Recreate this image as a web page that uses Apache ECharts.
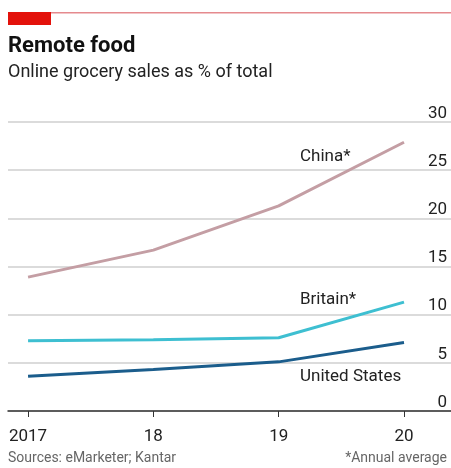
<!DOCTYPE html>
<html>
<head>
<meta charset="utf-8">
<script src="https://cdn.jsdelivr.net/npm/echarts@6/dist/echarts.min.js"></script>
<style>
  html, body { margin: 0; padding: 0; background: #fff; }
  #main { width: 451px; height: 468px; }
</style>
</head>
<body>
<div id="main"></div>
<script>
// data
var years = [2017, 2018, 2019, 2020];
var china = [13.9, 16.7, 21.3, 27.9];
var britain = [7.3, 7.4, 7.6, 11.3];
var unitedStates = [3.6, 4.3, 5.1, 7.1];
var yTicks = [0, 5, 10, 15, 20, 25, 30];

var font = 'Roboto';

function pairs(vals) {
    return vals.map(function (v, i) { return [years[i], v]; });
}

var myChart = echarts.init(document.getElementById('main'));

myChart.setOption({
    animation: false,
    grid: { left: 8, right: 0, top: 122, bottom: 57 },
    xAxis: {
        type: 'value',
        min: 2016.84,
        max: 2020.375,
        axisLine: { show: true, onZero: false, lineStyle: { color: '#333', width: 1.5 } },
        axisTick: {
            show: true,
            customValues: years,
            length: 6,
            lineStyle: { color: '#333', width: 1 }
        },
        axisLabel: {
            customValues: years,
            margin: 17,
            fontFamily: font,
            fontSize: 17,
            color: '#222',
            formatter: function (v) {
                return v === 2017 ? '2017' : String(v).slice(2);
            }
        },
        splitLine: { show: false }
    },
    yAxis: {
        type: 'value',
        position: 'right',
        min: 0,
        max: 30,
        interval: 5,
        axisLine: { show: false },
        axisTick: { show: false },
        axisLabel: {
            inside: true,
            verticalAlign: 'bottom',
            margin: 4,
            fontFamily: font,
            fontSize: 17,
            color: '#222',
            formatter: function (v) { return yTicks.indexOf(v) >= 0 ? String(v) : ''; }
        },
        splitLine: { lineStyle: { color: '#cfcfcf', width: 1.5 } }
    },
    series: [
        {
            name: 'China*', type: 'line', data: pairs(china), symbol: 'none',
            lineStyle: { color: '#c49ea4', width: 3 }
        },
        {
            name: 'Britain*', type: 'line', data: pairs(britain), symbol: 'none',
            lineStyle: { color: '#3ebfd1', width: 3 }
        },
        {
            name: 'United States', type: 'line', data: pairs(unitedStates), symbol: 'none',
            lineStyle: { color: '#1b5d8c', width: 3 }
        }
    ],
    graphic: [
        { type: 'rect', left: 8, top: 12, shape: { width: 443, height: 1.5 }, style: { fill: '#e58a8e' } },
        { type: 'rect', left: 8, top: 12, shape: { width: 43, height: 13 }, style: { fill: '#e3120b' } },
        { type: 'text', left: 8, top: 35, style: { text: 'Remote food', font: 'bold 22px ' + font, fill: '#111' } },
        { type: 'text', left: 8, top: 63, style: { text: 'Online grocery sales as % of total', font: '18px ' + font, fill: '#222' } },
        { type: 'text', left: 300, top: 148, style: { text: 'China*', font: '17px ' + font, fill: '#222' } },
        { type: 'text', left: 300, top: 291, style: { text: 'Britain*', font: '17px ' + font, fill: '#222' } },
        { type: 'text', left: 300, top: 368, style: { text: 'United States', font: '17px ' + font, fill: '#222' } },
        { type: 'text', left: 8, top: 451, style: { text: 'Sources: eMarketer; Kantar', font: '14px ' + font, fill: '#666' } },
        { type: 'text', right: 4, top: 451, style: { text: '*Annual average', font: '14px ' + font, fill: '#666' } }
    ]
});
</script>
</body>
</html>
